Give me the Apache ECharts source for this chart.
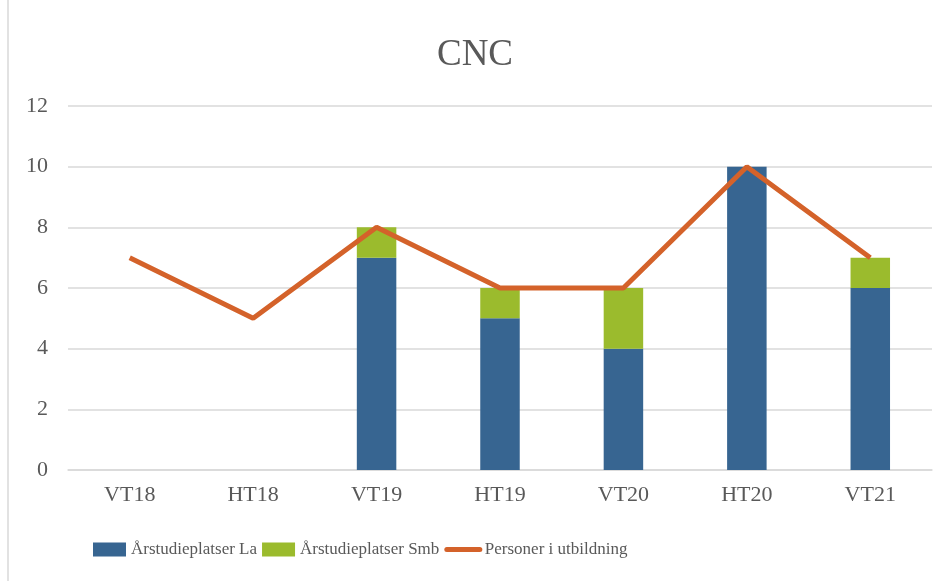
<!DOCTYPE html>
<html>
<head>
<meta charset="utf-8">
<script src="https://cdn.jsdelivr.net/npm/echarts@6/dist/echarts.min.js"></script>
<style>
html,body{margin:0;padding:0;background:#fff;}
#main{width:950px;height:581px;}
</style>
</head>
<body>
<div id="main"></div>
<script>
// data
var categories=["VT18","HT18","VT19","HT19","VT20","HT20","VT21"];
var platserLa=[0,0,7,5,4,10,6];
var platserSmb=[0,0,1,1,2,0,1];
var personer=[7,5,8,6,6,10,7];
var yTicks=[0,2,4,6,8,10,12];

var font="'Liberation Serif','DejaVu Serif',serif";
var chart=echarts.init(document.getElementById("main"));
chart.setOption({
    animation:false,
    backgroundColor:"#fff",
    textStyle:{fontFamily:font,color:"#595959"},
    title:{
        text:"CNC",left:"center",top:32,
        textStyle:{fontFamily:font,fontSize:37,fontWeight:"normal",color:"#595959"}
    },
    graphic:[{
        type:"line",shape:{x1:8,y1:0,x2:8,y2:581},
        style:{stroke:"#d9d9d9",lineWidth:1.5}
    }],
    legend:{
        bottom:18,left:88,itemGap:5,itemWidth:33,itemHeight:14,
        textStyle:{fontFamily:font,fontSize:17,color:"#595959"},
        data:[
            {name:"Årstudieplatser La",icon:"rect"},
            {name:"Årstudieplatser Smb",icon:"rect"},
            {name:"Personer i utbildning",itemStyle:{opacity:0},lineStyle:{width:5,cap:"round"}}
        ]
    },
    grid:{left:68,right:18,top:106,bottom:111},
    xAxis:{
        type:"category",data:categories,
        axisLine:{lineStyle:{color:"#d9d9d9",width:1.5}},
        axisTick:{show:false},
        axisLabel:{fontFamily:font,fontSize:22,color:"#595959",margin:14}
    },
    yAxis:{
        type:"value",min:yTicks[0],max:yTicks[yTicks.length-1],interval:2,
        axisLine:{show:false},axisTick:{show:false},
        splitLine:{lineStyle:{color:"#d9d9d9",width:1.5}},
        axisLabel:{fontFamily:font,fontSize:22,color:"#595959",margin:20}
    },
    series:[
        {
            name:"Årstudieplatser La",type:"bar",stack:"a",data:platserLa,
            barWidth:"32%",
            itemStyle:{color:"#376591"}
        },
        {
            name:"Årstudieplatser Smb",type:"bar",stack:"a",data:platserSmb,
            itemStyle:{color:"#9bbb2d"}
        },
        {
            name:"Personer i utbildning",type:"line",data:personer,
            symbol:"none",
            lineStyle:{color:"#d4622a",width:5},
            itemStyle:{color:"#d4622a"}
        }
    ]
});
</script>
</body>
</html>
